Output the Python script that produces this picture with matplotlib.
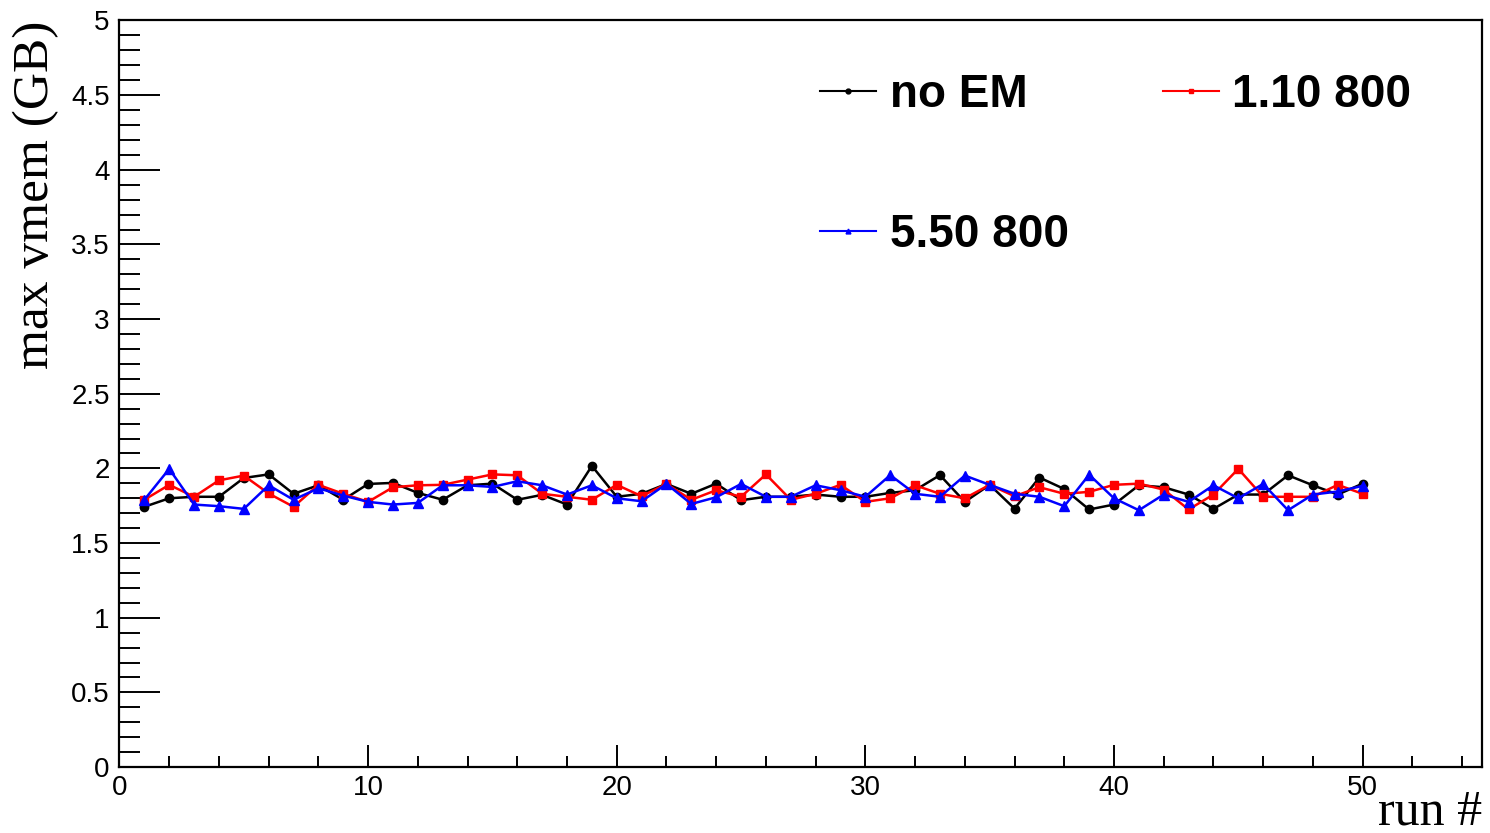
import matplotlib
matplotlib.use("Agg")
import matplotlib.pyplot as plt
from matplotlib.lines import Line2D
from matplotlib.ticker import MultipleLocator

# run number and max vmem (GB) for each configuration
runs = list(range(1, 51))
no_em = [1.743, 1.80, 1.81, 1.81, 1.936, 1.96, 1.83, 1.887, 1.79, 1.896,
         1.903, 1.836, 1.79, 1.887, 1.898, 1.79, 1.823, 1.758, 2.017, 1.81,
         1.83, 1.896, 1.83, 1.898, 1.787, 1.81, 1.81, 1.825, 1.81, 1.81,
         1.836, 1.854, 1.955, 1.776, 1.89, 1.731, 1.939, 1.862, 1.725, 1.758,
         1.887, 1.874, 1.825, 1.729, 1.825, 1.825, 1.954, 1.887, 1.825, 1.898]
em_110_800 = [1.79, 1.89, 1.81, 1.92, 1.952, 1.832, 1.743, 1.89, 1.83, 1.776,
              1.874, 1.887, 1.89, 1.925, 1.96, 1.954, 1.83, 1.81, 1.79, 1.89,
              1.814, 1.896, 1.79, 1.854, 1.81, 1.96, 1.79, 1.83, 1.89, 1.776,
              1.80, 1.887, 1.83, 1.80, 1.89, 1.814, 1.874, 1.83, 1.843, 1.89,
              1.898, 1.858, 1.725, 1.825, 1.997, 1.81, 1.81, 1.81, 1.89, 1.83]
em_550_800 = [1.79, 1.997, 1.758, 1.747, 1.729, 1.887, 1.79, 1.867, 1.818, 1.776,
              1.758, 1.769, 1.887, 1.887, 1.876, 1.914, 1.887, 1.825, 1.887, 1.80,
              1.78, 1.896, 1.762, 1.807, 1.896, 1.81, 1.81, 1.887, 1.854, 1.81,
              1.955, 1.83, 1.81, 1.952, 1.89, 1.83, 1.81, 1.747, 1.958, 1.80,
              1.72, 1.825, 1.776, 1.887, 1.80, 1.896, 1.72, 1.825, 1.845, 1.883]

fig = plt.figure(figsize=(14.9, 8.33), dpi=100)
ax = fig.add_axes([0.0802, 0.0792, 0.9144, 0.8962])

ax.plot(runs, no_em, color="black", marker="o", markersize=6, linewidth=1.8)
ax.plot(runs, em_110_800, color="red", marker="s", markersize=6, linewidth=1.8)
ax.plot(runs, em_550_800, color="blue", marker="^", markersize=6.5, linewidth=1.8)

ax.set_xlim(0, 54.8)
ax.set_ylim(0, 5)
ax.xaxis.set_major_locator(MultipleLocator(10))
ax.xaxis.set_minor_locator(MultipleLocator(2))
ax.yaxis.set_major_locator(MultipleLocator(0.5))
ax.yaxis.set_minor_locator(MultipleLocator(0.1))
ax.yaxis.set_major_formatter(plt.FuncFormatter(lambda v, p: "%g" % v))

ax.tick_params(axis="both", which="both", direction="in", labelsize=20,
               width=1.4, labelfontfamily="Liberation Sans")
ax.tick_params(axis="x", which="major", length=16, pad=6)
ax.tick_params(axis="x", which="minor", length=8)
ax.tick_params(axis="y", which="major", length=29.5, pad=7)
ax.tick_params(axis="y", which="minor", length=15)
for s in ax.spines.values():
    s.set_linewidth(1.6)

ax.set_ylabel("max vmem (GB)", fontsize=37, family="Liberation Serif", loc="top")
ax.yaxis.set_label_coords(-0.044, 1.0)
ax.set_xlabel("run #", fontsize=36, family="Liberation Serif", loc="right")
ax.xaxis.set_label_coords(1.0, -0.03)

handles = [
    Line2D([], [], color="black", marker="o", markersize=3.5, linewidth=1.5),
    Line2D([], [], color="blue", marker="^", markersize=3.5, linewidth=1.5),
    Line2D([], [], color="red", marker="s", markersize=3.5, linewidth=1.5),
]
labels = ["no EM", "5.50 800", "1.10 800"]
ax.legend(handles, labels, ncol=2, frameon=False, loc="upper left",
          bbox_to_anchor=(0.484, 0.985), handlelength=1.22, handletextpad=0.3,
          columnspacing=2.05, labelspacing=2.1,
          prop={"family": "Liberation Sans", "weight": "bold", "size": 33})

fig.savefig("out.png", dpi=100)
